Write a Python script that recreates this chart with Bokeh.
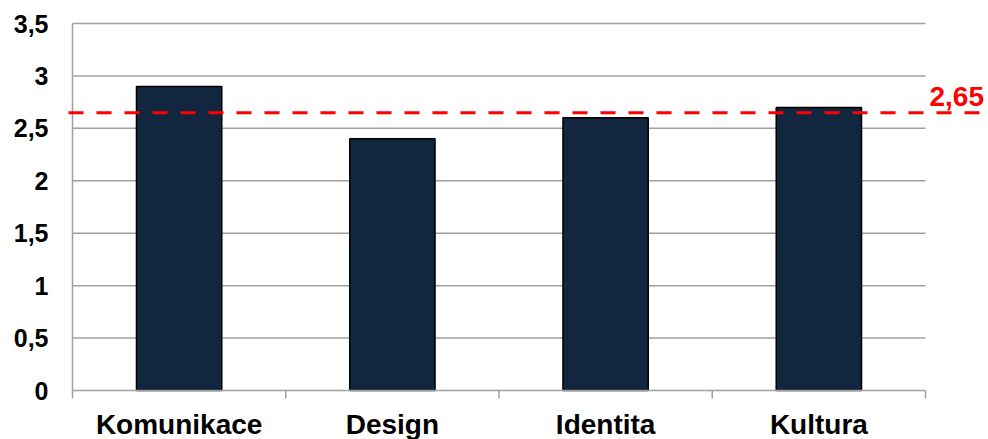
from bokeh.plotting import figure
from bokeh.models import FixedTicker, Arrow, Label, Range1d
from bokeh.core.properties import value
from bokeh.embed import file_html
from bokeh.resources import INLINE

# Scores per area and their mean
categories = ["Komunikace", "Design", "Identita", "Kultura"]
scores = [2.9, 2.4, 2.6, 2.7]
average = 2.65
average_label = "2,65"
y_ticks = [0, 0.5, 1, 1.5, 2, 2.5, 3, 3.5]
y_tick_labels = ["0", "0,5", "1", "1,5", "2", "2,5", "3", "3,5"]

FONT = "Liberation Sans"
BAR = "#13263f"
GRID = "#a0a0a0"

W, H = 988, 439
# pixel layout of the value area
LEFT, RIGHT, TOP, BASE = 72, 925, 23, 390
FRAME_LEFT, FRAME_TOP = 64, 20

n = len(categories)
px_x = (RIGHT - LEFT) / n
px_y = (BASE - TOP) / y_ticks[-1]

x_centers = [i + 0.5 for i in range(n)]
x_bounds = list(range(n + 1))

p = figure(width=W, height=H, output_backend="svg", toolbar_location=None,
           x_axis_location=None,
           x_range=Range1d(-(LEFT - FRAME_LEFT) / px_x, (W - LEFT) / px_x),
           y_range=Range1d(-(H - BASE) / px_y, y_ticks[-1] + (TOP - FRAME_TOP) / px_y),
           min_border_left=FRAME_LEFT, min_border_right=0,
           min_border_top=FRAME_TOP, min_border_bottom=0)
p.outline_line_color = None
p.background_fill_color = "white"
p.border_fill_color = "white"
p.xgrid.visible = False
p.ygrid.visible = False

# horizontal grid lines across the category span
p.segment(x0=[x_bounds[0]] * (len(y_ticks) - 1), x1=[x_bounds[-1]] * (len(y_ticks) - 1),
          y0=y_ticks[1:], y1=y_ticks[1:], line_color=GRID, line_width=1.5)

# bars
p.vbar(x=x_centers, top=scores, width=0.4, fill_color=BAR,
       line_color="black", line_width=1.5)

# axis lines and category boundary ticks
tick_len = 8 / px_y
p.segment(x0=[x_bounds[0], x_bounds[0]], y0=[0, 0],
          x1=[x_bounds[-1], x_bounds[0]], y1=[0, y_ticks[-1]],
          line_color=GRID, line_width=1.5)
p.segment(x0=x_bounds, x1=x_bounds, y0=[0] * len(x_bounds),
          y1=[-tick_len] * len(x_bounds), line_color=GRID, line_width=1.5)

# category labels
label_y = -(424 - BASE) / px_y
p.text(x=x_centers, y=[label_y] * n, text=categories,
       text_align="center", text_baseline="alphabetic",
       text_font=value(FONT), text_font_style="bold",
       text_font_size="28px", text_color="black")

# y axis: labels only
ya = p.yaxis[0]
ya.ticker = FixedTicker(ticks=y_ticks)
ya.major_label_overrides = dict(zip(y_ticks, y_tick_labels))
ya.major_tick_out = 0
ya.major_tick_in = 0
ya.minor_tick_line_color = None
ya.axis_line_color = None
ya.major_label_standoff = 16
ya.major_label_text_font = FONT
ya.major_label_text_font_style = "bold"
ya.major_label_text_font_size = "25px"
ya.major_label_text_color = "black"

# mean label and dashed mean line
lbl = Label(x=(909 - LEFT) / px_x, y=average + 20 / px_y, text=average_label,
            text_font=FONT, text_font_style="bold", text_font_size="28px",
            text_color="red", text_baseline="alphabetic",
            background_fill_color="white",
            padding=dict(left=20, right=2, top=8, bottom=0))
p.add_layout(lbl)

mean_line = Arrow(end=None, x_start=-(LEFT - 68) / px_x, y_start=average,
                  x_end=(980 - LEFT) / px_x, y_end=average,
                  line_color="red", line_width=3, line_dash="15 13",
                  level="overlay")
p.add_layout(mean_line)

open("out.html", "w").write(file_html(p, INLINE))
